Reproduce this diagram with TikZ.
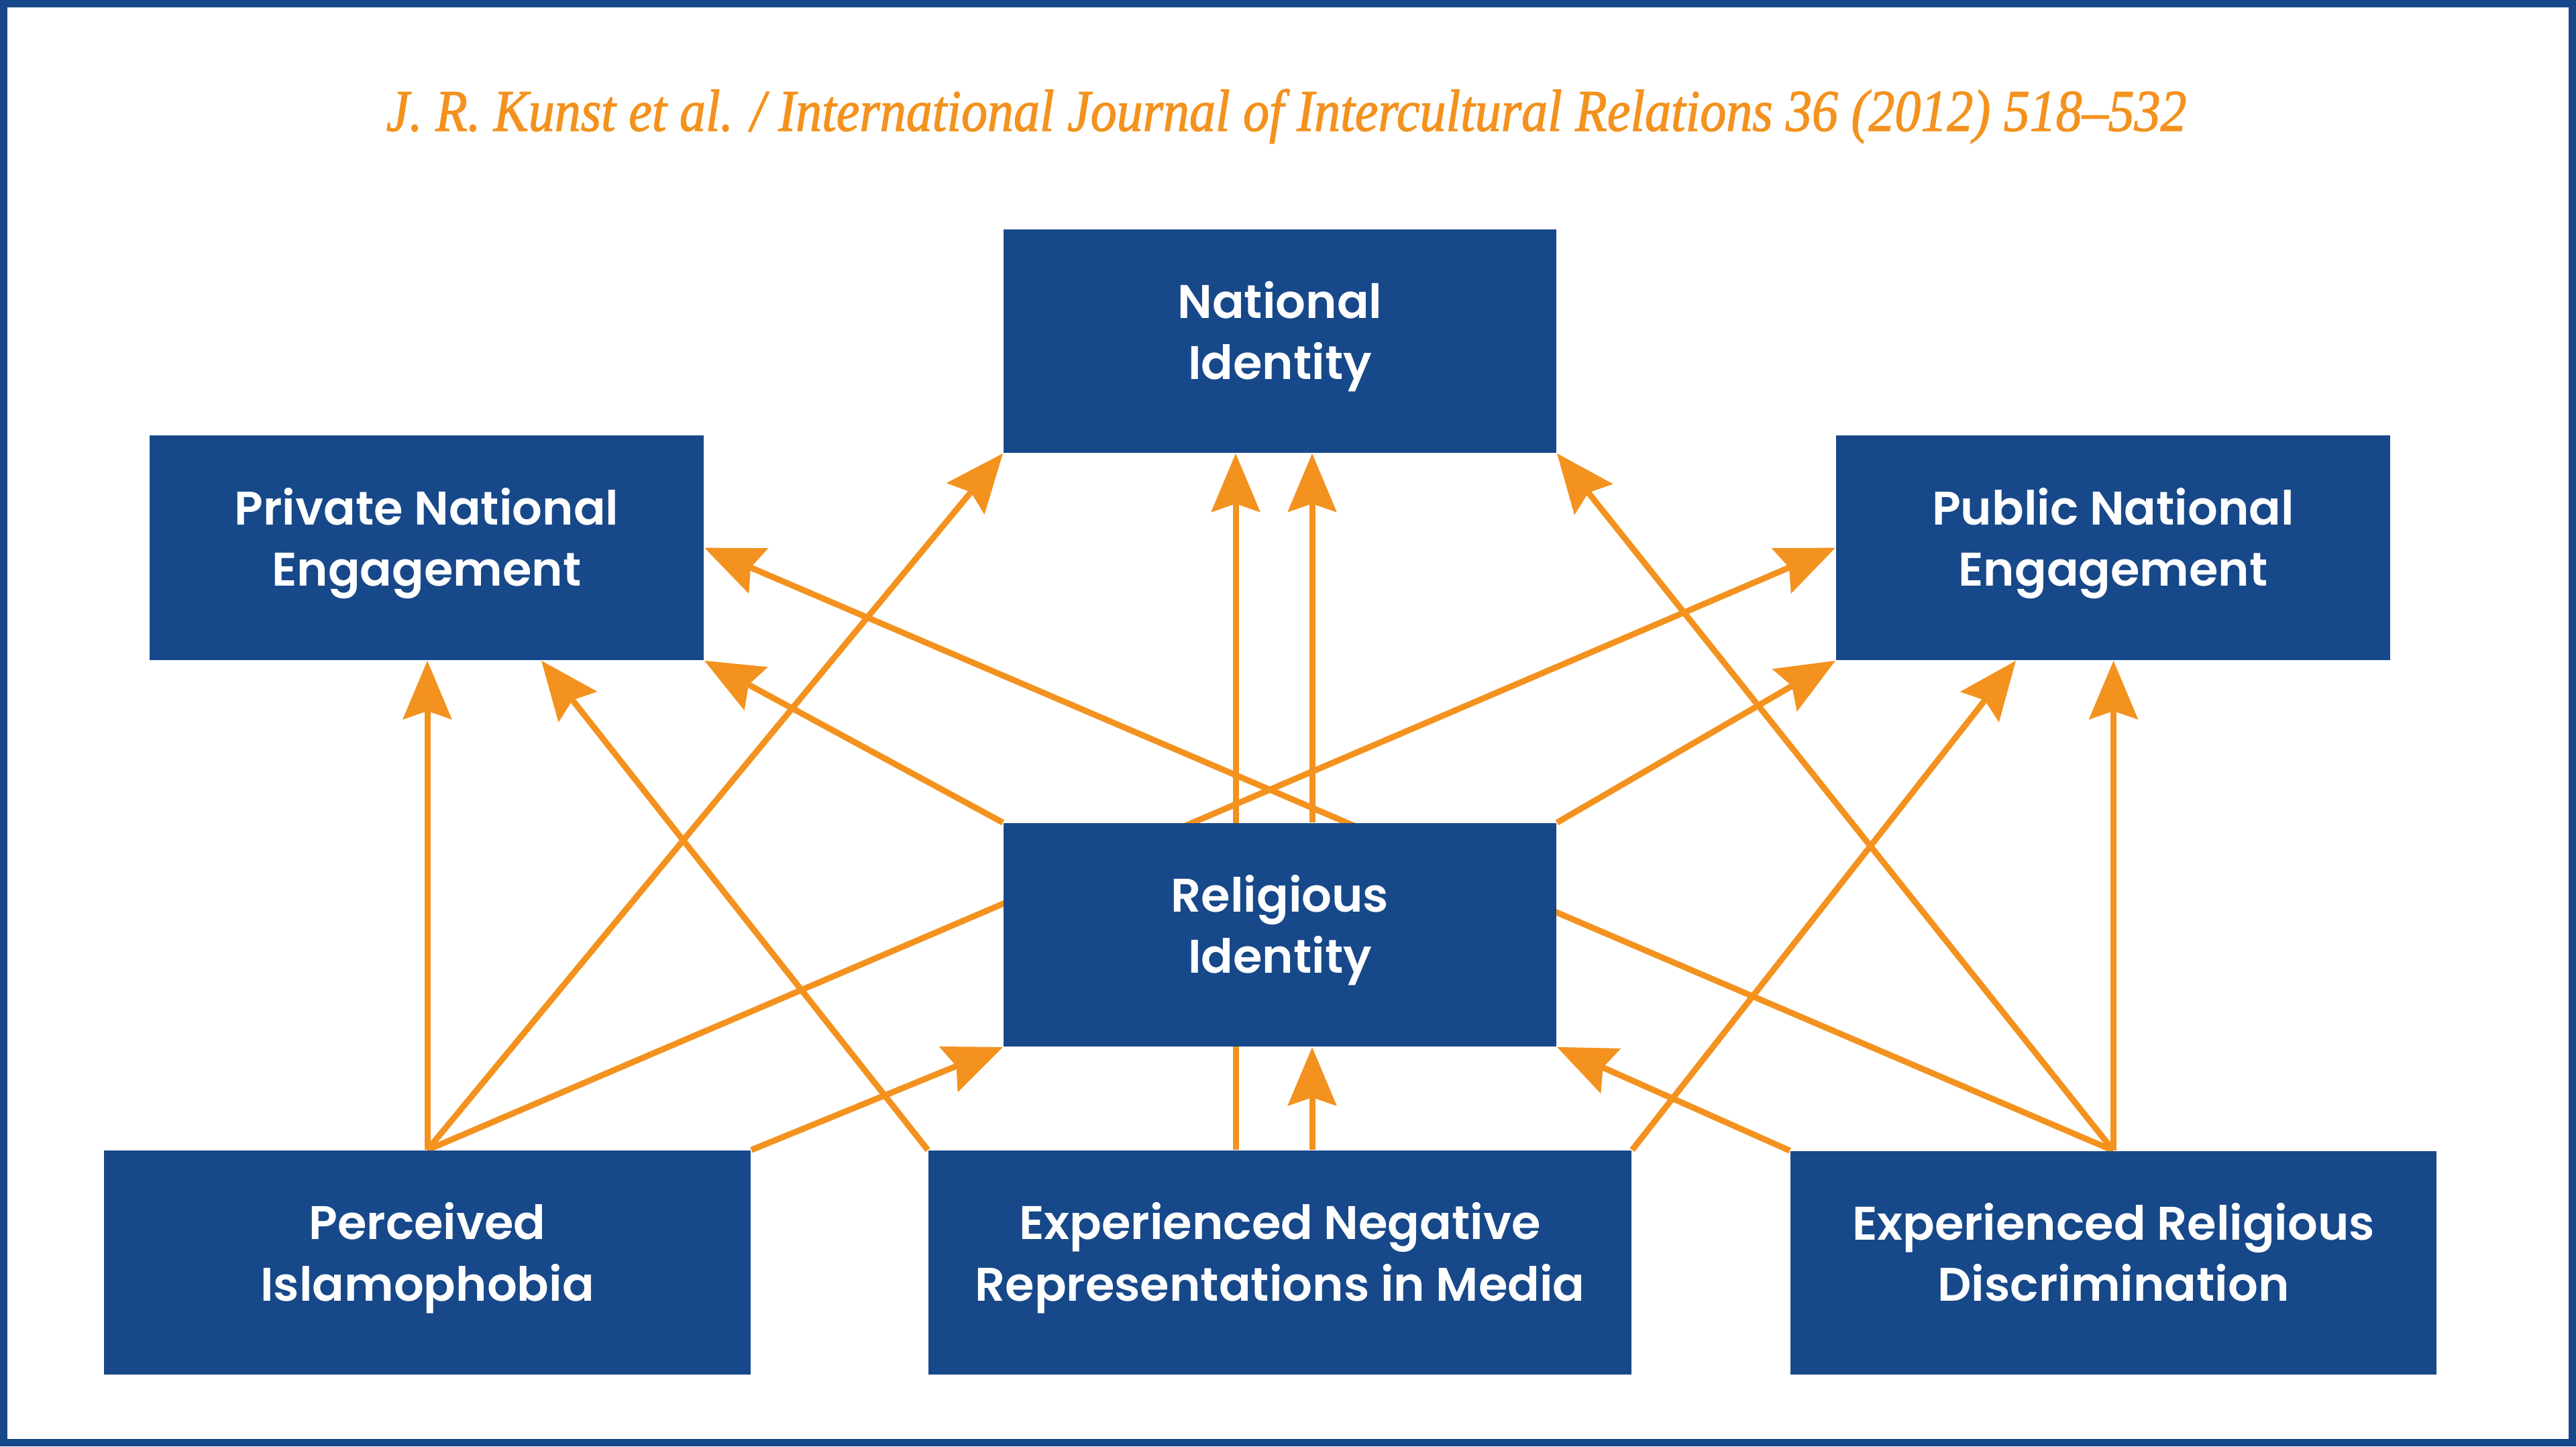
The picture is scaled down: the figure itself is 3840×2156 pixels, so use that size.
\documentclass[tikz,border=0pt]{standalone}
\usepackage{graphicx}
\usepackage{fontspec}
\usetikzlibrary{arrows.meta,calc}
\setmainfont{Liberation Serif}
\newfontfamily\titlefont{Liberation Serif}[ItalicFeatures={FakeBold=1.5}]
\newfontfamily\boxfont{Poppins}[UprightFont={* SemiBold}]
\definecolor{nblue}{RGB}{23,72,137}
\definecolor{norange}{RGB}{243,146,30}
\newcommand\bstrut{\rule[-9.46pt]{0pt}{25.46pt}}
\pgfdeclarelayer{background}
\pgfsetlayers{background,main}
\begin{document}
\begin{tikzpicture}[x=0.01cm,y=-0.01cm,
  box/.style={rectangle, fill=nblue, inner sep=0pt, text=white, align=center,
    font=\boxfont\fontsize{20pt}{26.1pt}\selectfont},
  link/.style={draw=norange, line width=0.09cm,
    -{Stealth[length=0.87cm,width=0.72cm,inset=0.12cm]}},
  frame/.style={draw=nblue, line width=0.11cm}]
\useasboundingbox (0,0) rectangle (3840,2156);
\draw[frame] (5.5,5.5) rectangle (3834.5,2150.5);

\node[anchor=base west, inner sep=0pt, text=norange] (title) at (575,195)
  {\resizebox{26.82cm}{0.62cm}{\titlefont\itshape J. R. Kunst et al. / International Journal of Intercultural Relations 36 (2012) 518–532}};

\node[box, minimum width=8.24cm, minimum height=3.33cm] (ni) at (1908,508.5) {\bstrut National\\\bstrut Identity};
\node[box, minimum width=8.26cm, minimum height=3.35cm] (pne) at (636,816.5) {\bstrut Private National\\\bstrut Engagement};
\node[box, minimum width=8.26cm, minimum height=3.35cm] (pubne) at (3150,816.5) {\bstrut Public National\\\bstrut Engagement};
\node[box, minimum width=8.24cm, minimum height=3.33cm] (ri) at (1908,1393.5) {\bstrut Religious\\\bstrut Identity};
\node[box, minimum width=9.64cm, minimum height=3.34cm] (pi) at (637,1882) {\bstrut Perceived\\\bstrut Islamophobia};
\node[box, minimum width=10.48cm, minimum height=3.34cm] (enrm) at (1908,1882) {\bstrut Experienced Negative\\\bstrut Representations in Media};
\node[box, minimum width=9.63cm, minimum height=3.33cm] (erd) at (3150.5,1882.5) {\bstrut Experienced Religious\\\bstrut Discrimination};

\begin{pgfonlayer}{background}
  % from Perceived Islamophobia
  \draw[link] (pi.north) -- (pi.north |- pne.south);
  \draw[link] (pi.north) -- (ni.south west);
  \draw[link] (pi.north) -- (pubne.west);
  \draw[link] (pi.north east) -- (ri.south west);
  % from Experienced Negative Representations in Media
  \draw[link] (enrm.north west) -- ($(pne.south)+(171,0)$);
  \draw[link] ($(enrm.north)+(-66,0)$) -- ($(ni.south)+(-66,0)$);
  \draw[link] ($(enrm.north)+(48,0)$) -- ($(ri.south)+(48,0)$);
  \draw[link] (enrm.north east) -- ($(pubne.south)+(-145,0)$);
  % from Experienced Religious Discrimination
  \draw[link] (erd.north) -- (erd.north |- pubne.south);
  \draw[link] (erd.north) -- (ni.south east);
  \draw[link] (erd.north) -- (pne.east);
  \draw[link] (erd.north west) -- (ri.south east);
  % from Religious Identity
  \draw[link] ($(ri.north)+(48,0)$) -- ($(ni.south)+(48,0)$);
  \draw[link] (ri.north west) -- (pne.south east);
  \draw[link] (ri.north east) -- (pubne.south west);
\end{pgfonlayer}
\end{tikzpicture}
\end{document}
